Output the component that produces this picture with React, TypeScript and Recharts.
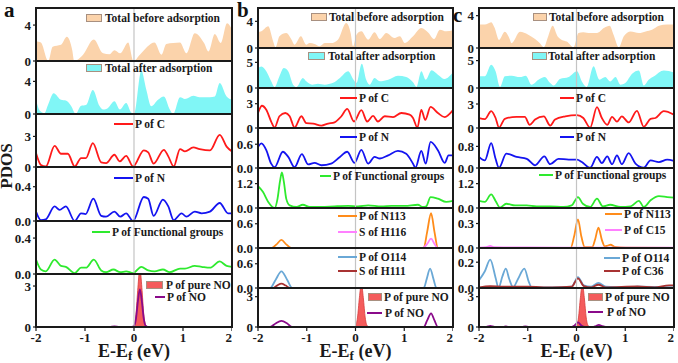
import React from "react";
import { ComposedChart, Area, Line, XAxis, YAxis, ReferenceLine } from "recharts";

const FONT = "'Liberation Serif', 'Times New Roman', serif";
const xTicks = [-2, -1, 0, 1, 2];

// ---- column a ----
const aBeforeE = [-2, -1.9, -1.75, -1.66, -1.49, -1.37, -1.26, -1.22, -1.04, -0.82, -0.63, -0.5, -0.4, -0.28, -0.12, -0.01, 0.12, 0.42, 0.56, 0.66, 0.8, 0.94, 1.07, 1.24, 1.43, 1.52, 1.65, 1.77, 1.9, 2];
const aBeforeD = [2.2, 2.05, 0, 1.6, 1.8, 2.7, 1.2, 0, 0.7, 2.4, 0.85, 0.75, 1.2, 0.85, 2.05, 0, 0.7, 2.05, 0.7, 1.9, 2.0, 2.05, 0.85, 3.1, 2.0, 1.05, 3.0, 2.0, 4.2, 3.5];
const aAfterE = [-2, -1.92, -1.83, -1.75, -1.64, -1.49, -1.39, -1.28, -1.19, -1.08, -0.98, -0.84, -0.7, -0.63, -0.53, -0.4, -0.29, -0.16, -0.06, 0, 0.15, 0.25, 0.35, 0.49, 0.61, 0.73, 0.8, 0.94, 1.04, 1.21, 1.34, 1.55, 1.65, 1.75, 1.89, 2];
const aAfterD = [1.75, 0.4, 0.1, 1.2, 2.55, 1.75, 1.65, 0.95, 0, 1.0, 1.1, 2.95, 0.95, 0.55, 0.75, 1.55, 0.55, 1.35, 0.2, 0, 5.3, 3.0, 0.95, 1.75, 2.15, 0.55, 0, 2.05, 1.85, 2.25, 2.05, 2.05, 2.15, 3.8, 2.15, 1.75];
const aCE = [-2, -1.9, -1.8, -1.62, -1.49, -1.35, -1.21, -1.08, -0.98, -0.84, -0.67, -0.57, -0.4, -0.29, -0.16, -0.02, 0.2, 0.29, 0.4, 0.61, 0.7, 0.81, 0.94, 1.04, 1.21, 1.34, 1.55, 1.75, 1.89, 2];
const aCD = [1.37, 0.2, 0.05, 2.08, 1.3, 1.3, 0.05, 0.88, 0.88, 2.34, 0.46, 0.39, 1.2, 0.55, 1.1, 0.05, 1.63, 1.43, 0.33, 1.69, 1.04, 0.05, 1.76, 1.53, 1.92, 1.76, 1.63, 3.16, 2.0, 1.53];
const aNE = [-2, -1.9, -1.8, -1.62, -1.52, -1.39, -1.21, -1.08, -0.99, -0.83, -0.67, -0.57, -0.4, -0.28, -0.16, -0.02, 0.2, 0.29, 0.4, 0.59, 0.7, 0.81, 0.97, 1.07, 1.24, 1.38, 1.55, 1.75, 1.92, 2];
const aND = [0.11, 0.01, 0.02, 0.17, 0.13, 0.17, 0, 0.09, 0.08, 0.26, 0.06, 0.05, 0.11, 0.05, 0.09, 0, 0.28, 0.26, 0.06, 0.25, 0.17, 0.01, 0.09, 0.05, 0.11, 0.09, 0.11, 0.21, 0.09, 0.09];
const aFgE = [-2, -1.9, -1.8, -1.62, -1.49, -1.39, -1.21, -1.08, -0.98, -0.82, -0.67, -0.57, -0.42, -0.28, -0.16, -0.02, 0.15, 0.29, 0.42, 0.59, 0.73, 0.94, 1.04, 1.24, 1.38, 1.55, 1.75, 1.89, 2];
const aFgD = [0.16, 0.05, 0.03, 0.16, 0.09, 0.08, 0.01, 0.07, 0.07, 0.16, 0.04, 0.02, 0.05, 0.02, 0.03, 0.01, 0.08, 0.04, 0.03, 0.05, 0.02, 0.06, 0.06, 0.09, 0.08, 0.07, 0.14, 0.09, 0.08];
const aNoE = [-2, -0.5, -0.4, -0.3, -0.04, 0, 0.04, 0.08, 0.12, 0.16, 0.2, 0.24, 0.28, 2];
const aNoD = [0, 0, 0.04, 0, 0, 0.08, 0.6, 1.9, 2.76, 1.9, 0.6, 0.08, 0, 0];

// pure NO reference peak (same in all columns)
const pureNoE = [-2, -0.04, 0, 0.04, 0.08, 0.12, 0.16, 0.2, 0.24, 0.28, 2];
const pureNoD = [0, 0, 0.12, 0.9, 2.9, 4.3, 2.9, 0.9, 0.12, 0, 0];

// ---- column b ----
const bBeforeE = [-2, -1.93, -1.79, -1.69, -1.64, -1.56, -1.42, -1.32, -1.25, -1.12, -1.01, -0.94, -0.84, -0.74, -0.63, -0.5, -0.36, -0.19, -0.1, -0.05, 0.02, 0.12, 0.26, 0.39, 0.5, 0.63, 0.8, 0.91, 1.01, 1.18, 1.35, 1.5, 1.61, 1.73, 1.86, 2];
const bBeforeD = [2.4, 2.5, 3.25, 1.0, 0.1, 1.75, 2.25, 1.35, 0.5, 1.75, 0.5, 0.75, 0.6, 0.25, 0.75, 0.75, 1.25, 3.75, 2.25, 0.25, 2.0, 2.5, 1.25, 2.35, 1.35, 2.25, 1.5, 1.75, 0.75, 1.75, 3.0, 2.25, 1.35, 2.75, 2.5, 2.65];
const bAfterE = [-2, -1.93, -1.83, -1.73, -1.66, -1.56, -1.47, -1.38, -1.28, -1.21, -1.08, -1.01, -0.89, -0.77, -0.63, -0.46, -0.32, -0.15, -0.05, 0.02, 0.13, 0.22, 0.29, 0.39, 0.5, 0.67, 0.87, 1.04, 1.18, 1.25, 1.35, 1.44, 1.56, 1.69, 1.83, 2];
const bAfterD = [3.9, 4.2, 3.25, 1.3, 0.2, 2.3, 3.9, 3.25, 0.65, 0.2, 1.95, 1.3, 0.65, 0.85, 0.65, 1.0, 1.95, 3.25, 1.75, 1.0, 4.75, 1.6, 0.65, 1.95, 1.3, 1.6, 2.4, 2.15, 1.1, 0.2, 3.25, 1.6, 3.45, 2.6, 1.75, 3.05];
const bCE = [-2, -1.92, -1.83, -1.73, -1.66, -1.56, -1.44, -1.35, -1.25, -1.11, -1.01, -0.87, -0.7, -0.56, -0.43, -0.29, -0.17, -0.03, 0.12, 0.24, 0.36, 0.46, 0.6, 0.77, 0.94, 1.11, 1.18, 1.27, 1.35, 1.43, 1.54, 1.69, 1.83, 2];
const bCD = [1.85, 2.75, 2.25, 0.8, 0.05, 1.45, 1.85, 1.45, 0.05, 1.45, 0.6, 0.55, 0.3, 0.55, 0.7, 1.45, 2.35, 0.8, 2.2, 0.8, 1.5, 0.8, 1.45, 1.35, 1.85, 1.65, 1.25, 0.05, 2.25, 1.0, 2.6, 1.85, 1.35, 2.2];
const bNE = [-2, -1.93, -1.83, -1.73, -1.66, -1.49, -1.38, -1.25, -1.1, -0.97, -0.84, -0.7, -0.5, -0.32, -0.17, -0.02, 0.12, 0.26, 0.39, 0.5, 0.67, 0.87, 1.04, 1.18, 1.23, 1.35, 1.44, 1.54, 1.69, 1.83, 1.91, 2];
const bND = [0.53, 0.62, 0.45, 0.11, 0.02, 0.41, 0.28, 0.02, 0.35, 0.09, 0.13, 0.07, 0.11, 0.28, 0.41, 0.13, 0.46, 0.11, 0.28, 0.24, 0.32, 0.43, 0.36, 0.11, 0.01, 0.43, 0.11, 0.66, 0.45, 0.13, 0.32, 0.32];
const bFgE = [-2, -1.9, -1.79, -1.66, -1.6, -1.55, -1.51, -1.47, -1.42, -1.35, -1.21, -1.08, -0.94, -0.7, -0.43, -0.15, 0.05, 0.26, 0.53, 0.74, 1.01, 1.28, 1.38, 1.45, 1.54, 1.69, 1.86, 2];
const bFgD = [1.07, 0.8, 0.3, 0, 0.45, 1.3, 1.75, 1.3, 0.45, 0.13, 0.05, 0.16, 0.05, 0.05, 0.08, 0.1, 0.08, 0.13, 0.08, 0.1, 0.1, 0.16, 0.05, 0.08, 0.54, 0.46, 0.3, 0.35];
const bN113E = [-2, -1.72, -1.62, -1.52, -1.42, -1.32, 1.4, 1.47, 1.55, 1.62, 1.69, 2];
const bN113D = [0, 0, 0.09, 0.2, 0.09, 0, 0, 0.4, 0.86, 0.4, 0, 0];
const bH116E = [-2, 1.38, 1.47, 1.55, 1.62, 1.69, 2];
const bH116D = [0, 0, 0.1, 0.23, 0.1, 0, 0];
const bO114E = [-2, -1.75, -1.64, -1.52, -1.4, -1.3, 1.4, 1.46, 1.53, 1.6, 1.66, 2];
const bO114D = [0, 0, 0.2, 0.41, 0.2, 0, 0, 0.22, 0.48, 0.22, 0, 0];
const bH111E = [-2, -1.7, -1.61, -1.52, -1.43, -1.35, 2];
const bH111D = [0, 0, 0.06, 0.11, 0.06, 0, 0];
const bNoE = [-2, -1.75, -1.64, -1.52, -1.4, -1.3, 1.4, 1.47, 1.55, 1.62, 1.69, 2];
const bNoD = [0, 0, 0.35, 0.6, 0.35, 0, 0, 0.65, 1.35, 0.65, 0, 0];

// ---- column c ----
const cBeforeE = [-2, -1.88, -1.75, -1.68, -1.59, -1.47, -1.38, -1.33, -1.16, -0.99, -0.85, -0.75, -0.67, -0.58, -0.49, -0.39, -0.3, -0.2, -0.06, 0.04, 0.14, 0.28, 0.42, 0.57, 0.68, 0.76, 0.87, 0.97, 1.11, 1.28, 1.42, 1.55, 1.69, 1.86, 2];
const cBeforeD = [2.9, 2.9, 3.2, 2.5, 1.0, 2.0, 1.25, 0.6, 2.0, 1.65, 1.1, 0.6, 0.1, 1.45, 2.75, 1.45, 1.0, 0.8, 0.1, 1.85, 1.95, 1.85, 1.85, 2.5, 2.75, 1.65, 0.1, 1.45, 2.05, 1.85, 2.05, 2.25, 2.75, 2.9, 2.9];
const cAfterE = [-2, -1.88, -1.75, -1.66, -1.57, -1.47, -1.33, -1.16, -1.04, -0.92, -0.78, -0.65, -0.54, -0.47, -0.34, -0.16, 0.01, 0.11, 0.21, 0.35, 0.47, 0.59, 0.69, 0.8, 0.9, 1.0, 1.14, 1.28, 1.38, 1.48, 1.59, 1.79, 2];
const cAfterD = [2.15, 2.15, 4.25, 3.05, 0.2, 2.15, 2.25, 2.0, 2.25, 0.6, 1.5, 2.0, 0.9, 0.45, 1.65, 2.0, 3.05, 1.2, 0.2, 3.95, 1.5, 2.0, 1.2, 2.0, 0.6, 0.9, 2.6, 3.2, 0.45, 1.5, 2.15, 3.2, 2.85];
const cCE = [-2, -1.88, -1.75, -1.66, -1.59, -1.47, -1.23, -1.06, -0.96, -0.85, -0.67, -0.54, -0.44, -0.23, 0.01, 0.14, 0.28, 0.42, 0.52, 0.63, 0.73, 0.83, 0.93, 1.07, 1.24, 1.38, 1.52, 1.62, 1.79, 2];
const cCD = [1.25, 1.1, 2.1, 1.25, 0.05, 1.15, 1.4, 1.4, 0.4, 1.05, 1.45, 0.3, 1.05, 1.45, 1.6, 1.25, 0.05, 2.6, 1.25, 0.4, 1.4, 0.8, 1.45, 0.7, 2.15, 0.15, 1.15, 1.25, 2.1, 1.65];
const cNE = [-2, -1.88, -1.75, -1.66, -1.59, -1.44, -1.23, -1.02, -0.85, -0.66, -0.54, -0.37, -0.16, 0.01, 0.11, 0.28, 0.42, 0.52, 0.63, 0.73, 0.83, 0.93, 1.07, 1.21, 1.38, 1.52, 1.69, 1.86, 2];
const cND = [0.41, 0.28, 0.92, 0.34, 0.01, 0.53, 0.41, 0.34, 0.1, 0.43, 0.14, 0.34, 0.31, 0.31, 0.22, 0.01, 0.41, 0.18, 0.43, 0.14, 0.47, 0.14, 0.55, 0.16, 0.01, 0.28, 0.22, 0.31, 0.26];
const cFgE = [-2, -1.88, -1.75, -1.66, -1.57, -1.44, -1.26, -1.02, -0.82, -0.54, -0.27, -0.1, 0.03, 0.13, 0.28, 0.42, 0.54, 0.69, 0.9, 1.11, 1.28, 1.38, 1.52, 1.69, 1.86, 2];
const cFgD = [0.35, 0.3, 0.67, 0.35, 0.02, 0.21, 0.13, 0.13, 0.08, 0.08, 0.05, 0.13, 0.54, 0.21, 0.05, 0.46, 0.08, 0.16, 0.05, 0.08, 0.35, 0.05, 0.38, 0.58, 0.54, 0.51];
const cN113E = [-2, -0.12, -0.05, 0.03, 0.1, 0.17, 0.32, 0.38, 0.45, 0.52, 0.58, 0.64, 0.7, 0.78, 1.0, 2];
const cN113D = [0, 0, 0.14, 0.35, 0.14, 0.01, 0.01, 0.1, 0.25, 0.1, 0.02, 0.03, 0.04, 0.015, 0.005, 0];
const cC15E = [-2, -1.85, -1.77, -1.7, -1.4, -1.0, 0, 2];
const cC15D = [0.005, 0.01, 0.025, 0.01, 0.008, 0.006, 0.005, 0.004];
const cO114E = [-2, -1.88, -1.77, -1.66, -1.6, -1.52, -1.45, -1.38, -1.3, -1.2, -1.07, -0.98, -0.92, -0.5, -0.1, 0.03, 0.15, 0.3, 0.45, 0.6, 1.0, 1.25, 2];
const cO114D = [0.06, 0.13, 0.22, 0.08, 0.0, 0.09, 0.15, 0.07, 0.005, 0.07, 0.15, 0.05, 0.005, 0.005, 0.01, 0.085, 0.02, 0.01, 0.04, 0.01, 0.005, 0.01, 0.005];
const cC36E = [-2, -1.77, -1.5, -1.0, -0.5, -0.1, 0.03, 0.15, 0.3, 0.45, 0.6, 1.25, 1.6, 1.9, 2];
const cC36D = [0.005, 0.015, 0.01, 0.01, 0.005, 0.01, 0.075, 0.015, 0.005, 0.025, 0.005, 0.012, 0.005, 0.02, 0.02];
const cNoE = [-2, -1.85, -1.77, -1.68, -1.5, -1.45, -1.4, -1.12, -1.05, -0.98, -0.1, -0.04, 0.03, 0.1, 0.17, 0.35, 0.4, 0.46, 0.52, 0.6, 2];
const cNoD = [0, 0.02, 0.12, 0.02, 0.02, 0.06, 0.02, 0.02, 0.06, 0.02, 0, 0.15, 0.45, 0.15, 0, 0, 0.1, 0.22, 0.1, 0, 0];

const BEFORE = "#fbd3ab";
const AFTER = "#80f6f6";
const RED = "#ff1a1a";
const BLUE = "#1414f0";
const GREEN = "#2eea2e";
const ORANGE = "#ff8c1a";
const PINK = "#ff80ff";
const LBLUE = "#6aa8d6";
const BROWN = "#a83232";
const PURPLE = "#8a0a8a";
const PURE = "#f45c5c";

type Kind = "fill" | "line" | "peak";
type Series = { kind: Kind; color: string; xs: number[]; ys: number[] };
type Leg = { label: string; color: string; box?: boolean; x0: number; x1: number; y: number; tx: number };
type PanelSpec = { top: number; h: number; ymax: number; ticks: number[]; series: Series[]; legend: Leg[] };

const rows = (xs: number[], ys: number[]) => xs.map((x, i) => ({ x, y: ys[i] }));
const fill = (color: string, xs: number[], ys: number[]): Series => ({ kind: "fill", color, xs, ys });
const line = (color: string, xs: number[], ys: number[]): Series => ({ kind: "line", color, xs, ys });
const peak = (xs: number[], ys: number[]): Series => ({ kind: "peak", color: PURE, xs, ys });

const Y_W = 30;
const PAD = 8;
const tickStyle = { fontSize: 13, fontWeight: 700, fontFamily: FONT, fill: "#1a1a1a" };

function Panel({ left, width, spec, bottom }: { left: number; width: number; spec: PanelSpec; bottom: boolean }) {
  const xH = bottom ? 22 : 0;
  const dec = spec.ticks.some((t) => !Number.isInteger(t)) ? 1 : 0;
  return (
    <div style={{ position: "absolute", left: left - Y_W, top: spec.top - PAD }}>
      <ComposedChart
        width={Y_W + width}
        height={spec.h + PAD + (bottom ? xH : PAD)}
        margin={{ top: PAD, right: 0, bottom: bottom ? 0 : PAD, left: 0 }}
      >
        <XAxis
          dataKey="x"
          type="number"
          domain={[-2, 2]}
          ticks={xTicks}
          allowDataOverflow
          hide={!bottom}
          height={xH}
          axisLine={false}
          tickLine={{ stroke: "#1a1a1a", strokeWidth: 1.2 }}
          tickSize={4}
          tick={tickStyle}
        />
        <YAxis
          type="number"
          domain={[0, spec.ymax]}
          ticks={spec.ticks}
          allowDataOverflow
          width={Y_W}
          axisLine={false}
          tickLine={{ stroke: "#1a1a1a", strokeWidth: 1.2 }}
          tickSize={3}
          tick={tickStyle}
          tickFormatter={(v: number) => v.toFixed(dec)}
        />
        {spec.series.map((s, i) =>
          s.kind === "line" ? (
            <Line key={i} data={rows(s.xs, s.ys)} dataKey="y" type="monotone" stroke={s.color} strokeWidth={1.8} dot={false} isAnimationActive={false} />
          ) : (
            <Area
              key={i}
              data={rows(s.xs, s.ys)}
              dataKey="y"
              type="monotone"
              fill={s.color}
              fillOpacity={1}
              stroke={s.kind === "peak" ? "#d83a3a" : "none"}
              strokeWidth={0.8}
              isAnimationActive={false}
            />
          )
        )}
        <ReferenceLine x={0} stroke="#c4c4c4" strokeWidth={1.2} />
      </ComposedChart>
    </div>
  );
}

function Legends({ items }: { items: Leg[] }) {
  return (
    <>
      {items.map((l, i) => (
        <React.Fragment key={i}>
          {l.box ? (
            <div style={{ position: "absolute", left: l.x0, top: l.y - 4, width: l.x1 - l.x0, height: 8, background: l.color, border: "1px solid #a89080", boxSizing: "border-box" }} />
          ) : (
            <div style={{ position: "absolute", left: l.x0, top: l.y - 1, width: l.x1 - l.x0, height: 2, background: l.color }} />
          )}
          <div style={{ position: "absolute", left: l.tx, top: l.y - 7, fontSize: 11.5, lineHeight: "14px", fontWeight: 700, fontFamily: FONT, color: "#1a1a1a", whiteSpace: "nowrap" }}>
            {l.label}
          </div>
        </React.Fragment>
      ))}
    </>
  );
}

const colA: PanelSpec[] = [
  { top: 8, h: 53, ymax: 5.9, ticks: [0, 4], series: [fill(BEFORE, aBeforeE, aBeforeD)], legend: [{ label: "Total before adsorption", color: BEFORE, box: true, x0: 86, x1: 102, y: 18, tx: 105 }] },
  { top: 61, h: 53, ymax: 6.5, ticks: [0, 4], series: [fill(AFTER, aAfterE, aAfterD)], legend: [{ label: "Total after adsorption", color: AFTER, box: true, x0: 86, x1: 102, y: 68, tx: 105 }] },
  { top: 114, h: 53, ymax: 5.2, ticks: [0, 3], series: [line(RED, aCE, aCD)], legend: [{ label: "P of C", color: RED, x0: 114, x1: 133, y: 124, tx: 135 }] },
  { top: 167, h: 54, ymax: 0.63, ticks: [0, 0.4], series: [line(BLUE, aNE, aND)], legend: [{ label: "P of N", color: BLUE, x0: 114, x1: 133, y: 178, tx: 135 }] },
  { top: 221, h: 53, ymax: 0.59, ticks: [0, 0.4], series: [line(GREEN, aFgE, aFgD)], legend: [{ label: "P of Functional groups", color: GREEN, x0: 92, x1: 110, y: 232, tx: 112 }] },
  {
    top: 274, h: 53, ymax: 3.88, ticks: [0, 3],
    series: [peak(pureNoE, pureNoD), line(PURPLE, aNoE, aNoD)],
    legend: [
      { label: "P of pure NO", color: PURE, box: true, x0: 146, x1: 163, y: 285, tx: 166 },
      { label: "P of NO", color: PURPLE, x0: 155, x1: 165, y: 297, tx: 167 },
    ],
  },
];

const colB: PanelSpec[] = [
  { top: 8, h: 40, ymax: 6.0, ticks: [0, 4], series: [fill(BEFORE, bBeforeE, bBeforeD)], legend: [{ label: "Total before adsorption", color: BEFORE, box: true, x0: 311, x1: 327, y: 17, tx: 329 }] },
  { top: 48, h: 40, ymax: 7.8, ticks: [0, 5], series: [fill(AFTER, bAfterE, bAfterD)], legend: [{ label: "Total after adsorption", color: AFTER, box: true, x0: 308, x1: 325, y: 56, tx: 328 }] },
  { top: 88, h: 40, ymax: 4.94, ticks: [0, 3], series: [line(RED, bCE, bCD)], legend: [{ label: "P of C", color: RED, x0: 340, x1: 357, y: 98, tx: 359 }] },
  { top: 128, h: 40, ymax: 1.01, ticks: [0, 0.6], series: [line(BLUE, bNE, bND)], legend: [{ label: "P of N", color: BLUE, x0: 340, x1: 357, y: 137, tx: 359 }] },
  { top: 168, h: 40, ymax: 1.97, ticks: [0, 1.2], series: [line(GREEN, bFgE, bFgD)], legend: [{ label: "P of Functional groups", color: GREEN, x0: 320, x1: 331, y: 176, tx: 333 }] },
  {
    top: 208, h: 40, ymax: 0.99, ticks: [0, 0.6],
    series: [line(ORANGE, bN113E, bN113D), line(PINK, bH116E, bH116D)],
    legend: [
      { label: "P of N113", color: ORANGE, x0: 338, x1: 357, y: 216, tx: 359 },
      { label: "S of H116", color: PINK, x0: 338, x1: 357, y: 232, tx: 359 },
    ],
  },
  {
    top: 248, h: 40, ymax: 0.99, ticks: [0, 0.6],
    series: [line(LBLUE, bO114E, bO114D), line(BROWN, bH111E, bH111D)],
    legend: [
      { label: "P of O114", color: LBLUE, x0: 338, x1: 357, y: 257, tx: 359 },
      { label: "S of H111", color: BROWN, x0: 338, x1: 357, y: 271, tx: 359 },
    ],
  },
  {
    top: 288, h: 39, ymax: 3.86, ticks: [0, 3],
    series: [peak(pureNoE, pureNoD), line(PURPLE, bNoE, bNoD)],
    legend: [
      { label: "P of pure NO", color: PURE, box: true, x0: 368, x1: 382, y: 297, tx: 384 },
      { label: "P of NO", color: PURPLE, x0: 367, x1: 382, y: 313, tx: 385 },
    ],
  },
];

const colC: PanelSpec[] = [
  { top: 8, h: 40, ymax: 4.95, ticks: [0, 4], series: [fill(BEFORE, cBeforeE, cBeforeD)], legend: [{ label: "Total before adsorption", color: BEFORE, box: true, x0: 533, x1: 547, y: 17, tx: 549 }] },
  { top: 48, h: 40, ymax: 7.3, ticks: [0, 5], series: [fill(AFTER, cAfterE, cAfterD)], legend: [{ label: "Total after adsorption", color: AFTER, box: true, x0: 532, x1: 547, y: 56, tx: 548 }] },
  { top: 88, h: 40, ymax: 5.0, ticks: [0, 3], series: [line(RED, cCE, cCD)], legend: [{ label: "P of C", color: RED, x0: 560, x1: 574, y: 98, tx: 576 }] },
  { top: 128, h: 40, ymax: 1.48, ticks: [0, 0.8], series: [line(BLUE, cNE, cND)], legend: [{ label: "P of N", color: BLUE, x0: 560, x1: 574, y: 137, tx: 576 }] },
  { top: 168, h: 40, ymax: 1.97, ticks: [0, 1.2], series: [line(GREEN, cFgE, cFgD)], legend: [{ label: "P of Functional groups", color: GREEN, x0: 539, x1: 553, y: 175, tx: 555 }] },
  {
    top: 208, h: 40, ymax: 0.49, ticks: [0, 0.3],
    series: [line(ORANGE, cN113E, cN113D), line(PINK, cC15E, cC15D)],
    legend: [
      { label: "P of N113", color: ORANGE, x0: 605, x1: 622, y: 214, tx: 624 },
      { label: "P of C15", color: PINK, x0: 605, x1: 622, y: 230, tx: 624 },
    ],
  },
  {
    top: 248, h: 40, ymax: 0.31, ticks: [0, 0.2],
    series: [line(LBLUE, cO114E, cO114D), line(BROWN, cC36E, cC36D)],
    legend: [
      { label: "P of O114", color: LBLUE, x0: 604, x1: 620, y: 258, tx: 622 },
      { label: "P of C36", color: BROWN, x0: 604, x1: 620, y: 271, tx: 622 },
    ],
  },
  {
    top: 288, h: 39, ymax: 3.86, ticks: [0, 3],
    series: [peak(pureNoE, pureNoD), line(PURPLE, cNoE, cNoD)],
    legend: [
      { label: "P of pure NO", color: PURE, box: true, x0: 588, x1: 603, y: 297, tx: 605 },
      { label: "P of NO", color: PURPLE, x0: 588, x1: 603, y: 312, tx: 607 },
    ],
  },
];

const columns = [
  { left: 36, width: 196, letter: "a", lx: 4, ly: 16, panels: colA },
  { left: 258, width: 195, letter: "b", lx: 237, ly: 16, panels: colB },
  { left: 479, width: 195, letter: "c", lx: 453, ly: 21, panels: colC },
];

const BOTTOM = 327;
const TOP = 8;

export default function App() {
  return (
    <div style={{ position: "absolute", left: 0, top: 0, width: 678, height: 363, background: "#fff", fontFamily: FONT }}>
      {columns.map((col) => (
        <React.Fragment key={col.letter}>
          {col.panels.map((p, i) => (
            <Panel key={i} left={col.left} width={col.width} spec={p} bottom={i === col.panels.length - 1} />
          ))}
          <div style={{ position: "absolute", left: col.left - 1, top: TOP - 1, width: col.width + 2, height: BOTTOM - TOP + 2, border: "2px solid #1a1a1a", boxSizing: "border-box" }} />
          {col.panels.slice(1).map((p, i) => (
            <div key={"d" + i} style={{ position: "absolute", left: col.left, top: p.top - 1, width: col.width, height: 2, background: "#1a1a1a" }} />
          ))}
          {col.panels.map((p, i) => (
            <Legends key={"l" + i} items={p.legend} />
          ))}
          <div style={{ position: "absolute", left: col.lx, top: col.ly - 14, fontSize: 21, lineHeight: "16px", fontWeight: 700, fontFamily: FONT, color: "#111" }}>{col.letter}</div>
          <div style={{ position: "absolute", left: col.left, width: col.width, top: 342, textAlign: "center", fontSize: 18, lineHeight: "18px", fontWeight: 700, fontFamily: FONT, color: "#1a1a1a" }}>
            E-E<span style={{ fontSize: 13, position: "relative", top: 3 }}>f</span> (eV)
          </div>
        </React.Fragment>
      ))}
      <div style={{ position: "absolute", left: -18, top: 159, width: 50, height: 14, textAlign: "center", transform: "rotate(-90deg)", fontSize: 17, lineHeight: "14px", fontWeight: 700, fontFamily: FONT, color: "#1a1a1a" }}>
        PDOS
      </div>
    </div>
  );
}
